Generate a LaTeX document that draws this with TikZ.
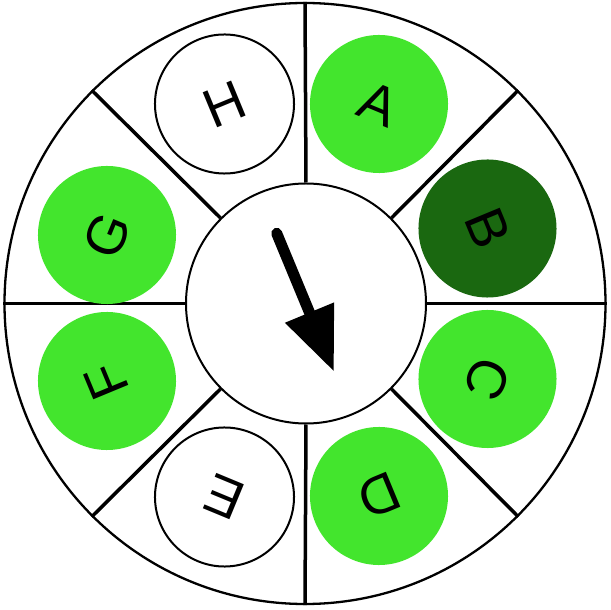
\documentclass[tikz,border=0pt]{standalone}
\usepackage{fontspec}
\setmainfont{Liberation Sans}
\usetikzlibrary{arrows.meta}
\definecolor{vivo}{HTML}{43E52D}
\definecolor{oscuro}{HTML}{1A6810}

\begin{document}
\begin{tikzpicture}[
    x=1pt, y=1pt,
    sector/.style={line width=3.5pt},
    ficha/.style={
        circle,
        minimum size=138pt,
        inner sep=0pt,
        font=\fontsize{55}{55}\selectfont
    },
    encendida/.style={ficha, fill=vivo},
    seleccionada/.style={ficha, fill=oscuro},
    apagada/.style={ficha, draw, line width=2pt, fill=white, minimum size=139pt},
    aguja/.style={line width=11pt, line cap=round, -{Triangle[length=64pt,width=50pt]}}
]
\useasboundingbox (-305,-306.5) rectangle (306,303.5);

\node[circle, draw, line width=2.3pt, minimum size=601pt, inner sep=0pt] (rueda) at (0,0) {};
\node[circle, draw, line width=2pt, minimum size=240pt, inner sep=0pt] (centro) at (1,0) {};

\foreach \a in {0,45,...,315}
    \draw[sector] (centro.\a) -- (rueda.\a);

\node[encendida, rotate=-22.5] (a) at (74,199.5) {A};
\node[seleccionada, rotate=-67.5] (b) at (182.5,75) {B};
\node[encendida, rotate=-112.5] (c) at (182.5,-75.5) {C};
\node[encendida, rotate=-157.5] (d) at (74,-192.5) {D};
\node[apagada, rotate=157.5] (e) at (-80.5,-193.5) {E};
\node[encendida, rotate=112.5] (f) at (-198,-77.5) {F};
\node[encendida, rotate=67.5] (g) at (-198,68.5) {G};
\node[apagada, rotate=22.5] (h) at (-80.5,199.5) {H};

\coordinate (cola) at (-28.3,70.2);
\coordinate (punta) at (29,-68.2);
\draw[aguja] (cola) -- (punta);

\end{tikzpicture}
\end{document}
